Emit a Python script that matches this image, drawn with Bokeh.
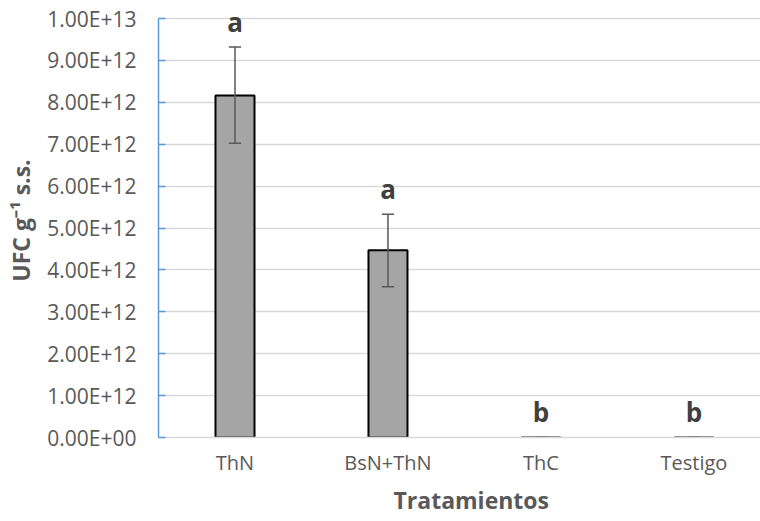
from bokeh.plotting import figure
from bokeh.models import FixedTicker, ColumnDataSource, Title
from bokeh.embed import file_html
from bokeh.resources import INLINE
from bokeh.core.properties import value

categories = ["ThN", "BsN+ThN", "ThC", "Testigo"]
means = [8.16e12, 4.47e12, 1.0e9, 1.0e9]
err_low = [7.02e12, 3.60e12, 0.0, 0.0]
err_high = [9.32e12, 5.33e12, 2.0e9, 2.0e9]
letters = ["a", "a", "b", "b"]
y_tick_values = [0, 1e12, 2e12, 3e12, 4e12, 5e12, 6e12, 7e12, 8e12, 9e12, 1e13]
y_tick_labels = ["0.00E+00", "1.00E+12", "2.00E+12", "3.00E+12", "4.00E+12", "5.00E+12",
                 "6.00E+12", "7.00E+12", "8.00E+12", "9.00E+12", "1.00E+13"]
x_title = "Tratamientos"
y_title = "UFC g\u207b\u00b9 s.s."

FONT = "Open Sans"
xs = list(range(len(categories)))

p = figure(width=760, height=521, output_backend="svg", toolbar_location=None,
           x_range=(-0.5, 3.435), y_range=(0, 1.0358e13),
           min_border_left=158, min_border_right=0, min_border_top=3, min_border_bottom=84)
p.outline_line_color = None
p.background_fill_color = "white"

src = ColumnDataSource(dict(x=xs, top=means, lo=err_low, hi=err_high, lab=letters,
                            ly=[h + 0.6e12 for h in err_high]))

p.vbar(x="x", top="top", width=0.255, bottom=0, source=src,
       fill_color="#A5A5A5", line_color="black", line_width=2)

p.segment(x0="x", y0="lo", x1="x", y1="hi", source=src, line_color="#595959", line_width=1.5)
cap = 0.04
p.segment(x0=[x - cap for x in xs], y0=err_low, x1=[x + cap for x in xs], y1=err_low,
          line_color="#595959", line_width=1.5)
p.segment(x0=[x - cap for x in xs], y0=err_high, x1=[x + cap for x in xs], y1=err_high,
          line_color="#595959", line_width=1.5)

p.text(x="x", y="ly", text="lab", source=src, text_align="center", text_baseline="middle",
       text_font=value(FONT), text_font_style="bold", text_font_size="26px",
       text_color="#404040")

# x axis title placed under the axis (centered on the full, partly cropped category span)
p.add_layout(Title(text=x_title, align="left", offset=235, text_font=FONT,
                   text_font_style="bold", text_font_size="23px", text_color="#595959",
                   vertical_align="bottom", text_baseline="middle", standoff=6), "below")

# axes
p.xaxis.ticker = FixedTicker(ticks=xs)
p.xaxis.major_label_overrides = {i: c for i, c in enumerate(categories)}
p.xaxis.axis_line_color = "#D9D9D9"
p.xaxis.axis_line_width = 1.5
p.xaxis.major_tick_line_color = None
p.xaxis.minor_tick_line_color = None
p.xaxis.major_label_standoff = 5
p.xaxis.major_label_text_font = FONT
p.xaxis.major_label_text_font_size = "20px"
p.xaxis.major_label_text_color = "#595959"

p.yaxis.ticker = FixedTicker(ticks=y_tick_values)
p.yaxis.major_label_overrides = {v: l for v, l in zip(y_tick_values, y_tick_labels)}
p.yaxis.bounds = (0, 1e13)
p.yaxis.axis_line_color = "#5B9BD5"
p.yaxis.axis_line_width = 1.5
p.yaxis.major_tick_line_color = "#5B9BD5"
p.yaxis.major_tick_line_width = 1.5
p.yaxis.major_tick_in = 7
p.yaxis.major_tick_out = 0
p.yaxis.minor_tick_line_color = None
p.yaxis.major_label_standoff = 22
p.yaxis.major_label_text_font = FONT
p.yaxis.major_label_text_font_size = "21px"
p.yaxis.major_label_text_color = "#595959"
p.yaxis.axis_label = y_title
p.yaxis.axis_label_text_font = FONT
p.yaxis.axis_label_text_font_style = "bold"
p.yaxis.axis_label_text_font_size = "23px"
p.yaxis.axis_label_text_color = "#595959"
p.yaxis.axis_label_standoff = 7

p.xgrid.grid_line_color = None
p.ygrid.grid_line_color = "#D9D9D9"
p.ygrid.grid_line_width = 1.5
p.ygrid.bounds = (0, 1e13)

open("out.html", "w").write(file_html(p, INLINE))
